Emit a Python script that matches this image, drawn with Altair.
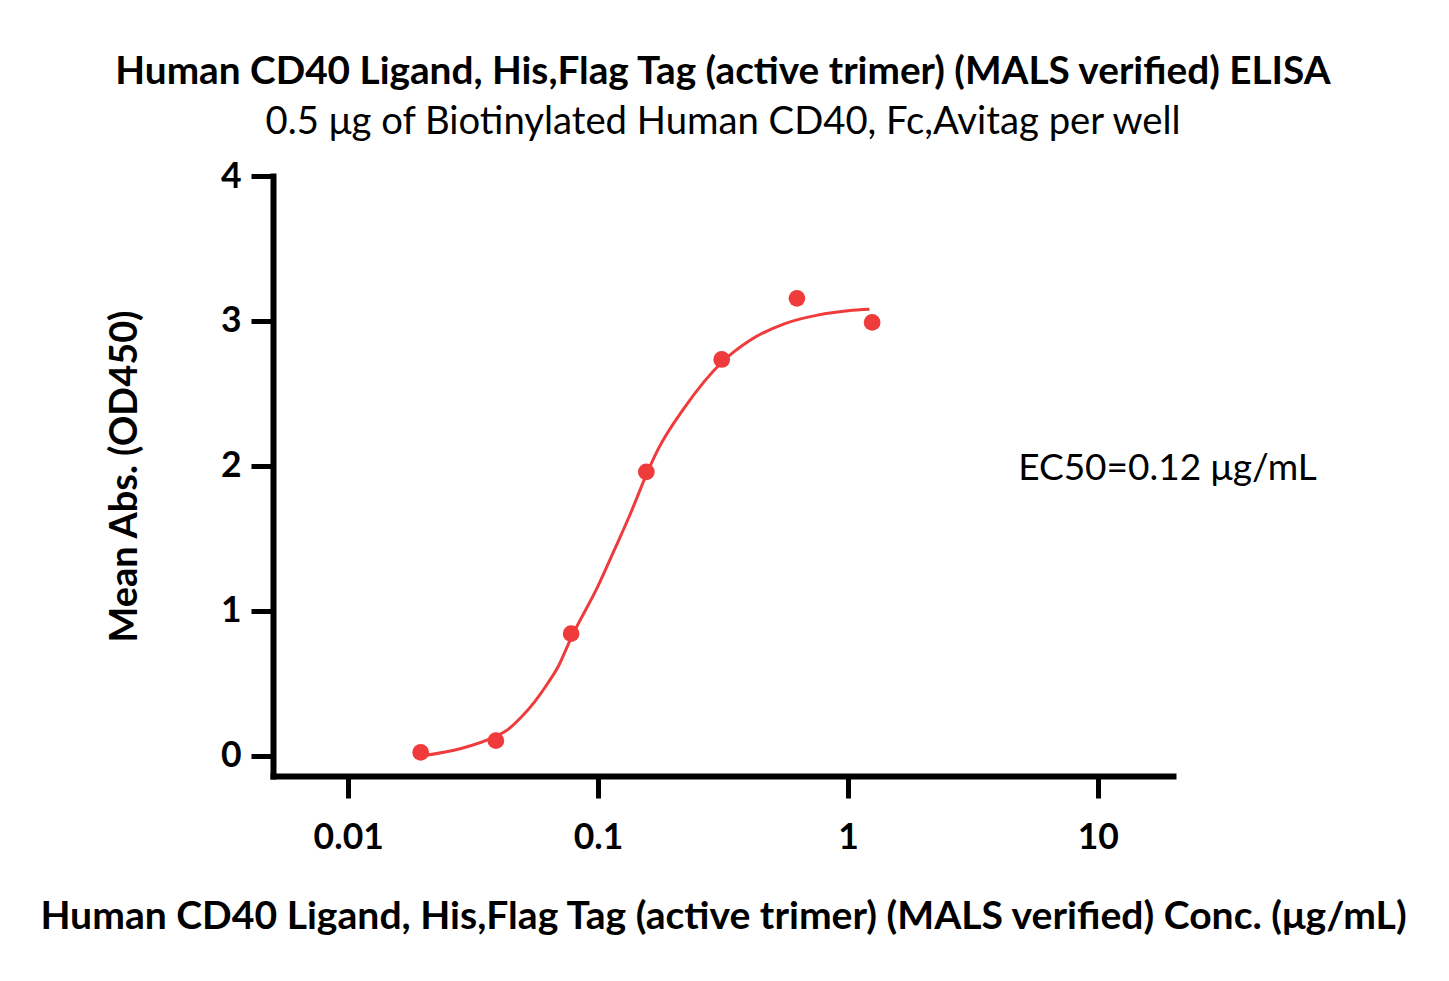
import altair as alt
import pandas as pd

# Measured points
conc = [0.0195, 0.039, 0.078, 0.156, 0.3125, 0.625, 1.25]
absorb = [0.023, 0.104, 0.842, 1.958, 2.734, 3.156, 2.99]

# Fitted curve
fit_conc = [0.0199, 0.0283, 0.0385, 0.0435, 0.0492, 0.0556, 0.0629, 0.069, 0.0756,
            0.0787, 0.0999, 0.1162, 0.1355, 0.157, 0.1734, 0.2214, 0.3154, 0.409,
            0.556, 0.756, 1.0, 1.22]
fit_abs = [0.0, 0.05, 0.13, 0.18, 0.265, 0.37, 0.50, 0.61, 0.76,
           0.825, 1.17, 1.42, 1.68, 1.95, 2.11, 2.40, 2.72, 2.87,
           2.98, 3.04, 3.07, 3.08]

x_ticks = [0.01, 0.1, 1, 10]
y_ticks = [0, 1, 2, 3, 4]

title_text = "Human CD40 Ligand, His,Flag Tag (active trimer) (MALS verified) ELISA"
subtitle_text = "0.5 \u03bcg of Biotinylated Human CD40, Fc,Avitag per well"
x_title = "Human CD40 Ligand, His,Flag Tag (active trimer) (MALS verified) Conc. (\u03bcg/mL)"
y_title = "Mean Abs. (OD450)"
ec50_label = ["EC50=0.12 \u03bcg/mL"]
ec50_pos_x = [4.8]
ec50_pos_y = [1.9]

RED = "#EF3B3B"
FONT = "Lato"

pts = pd.DataFrame({"conc": conc, "abs": absorb})
fit = pd.DataFrame({"conc": fit_conc, "abs": fit_abs})
ann = pd.DataFrame({"conc": ec50_pos_x, "abs": ec50_pos_y, "label": ec50_label})

xscale = alt.Scale(type="log", domain=[0.005, 20], nice=False)
yscale = alt.Scale(domain=[-0.14, 4], nice=False, zero=False)

xenc = alt.X("conc:Q", scale=xscale,
             axis=alt.Axis(values=x_ticks, format="~g", title=x_title,
                           labelPadding=22, titlePadding=42, titleFontSize=39.1))
yenc = alt.Y("abs:Q", scale=yscale,
             axis=alt.Axis(values=y_ticks, title=y_title, labelPadding=10,
                           titlePadding=76, titleFontSize=37.9))

line = alt.Chart(fit).mark_line(color=RED, strokeWidth=3, interpolate="monotone").encode(
    x=xenc, y=yenc)
points = alt.Chart(pts).mark_circle(color=RED, size=280, opacity=1).encode(
    x=xenc, y=yenc)
text = alt.Chart(ann).mark_text(align="left", baseline="alphabetic", font=FONT,
                                fontSize=37, color="black").encode(
    x=xenc, y=yenc, text="label:N")

chart = alt.layer(line, points, text).properties(
    width=900, height=600,
    autosize=alt.AutoSizeParams(type="none"),
    padding={"left": 265, "top": 168, "right": 268, "bottom": 197},
    title=alt.TitleParams(text=title_text, subtitle=subtitle_text, anchor="middle",
                          font=FONT, fontSize=38.75, fontWeight="bold", color="black",
                          subtitleFont=FONT, subtitleFontSize=38.25, subtitleColor="black",
                          subtitlePadding=12, offset=18),
).configure(background="white").configure_view(stroke=None).configure_axis(
    grid=False, domainColor="black", domainWidth=6, domainCap="square",
    tickColor="black", tickWidth=5, tickSize=22,
    labelFont=FONT, labelFontWeight="bold", labelFontSize=35.5, labelColor="black",
    titleFont=FONT, titleFontWeight="bold", titleColor="black",
)

chart.save("out.html", embed_options={"renderer": "svg", "actions": False})
